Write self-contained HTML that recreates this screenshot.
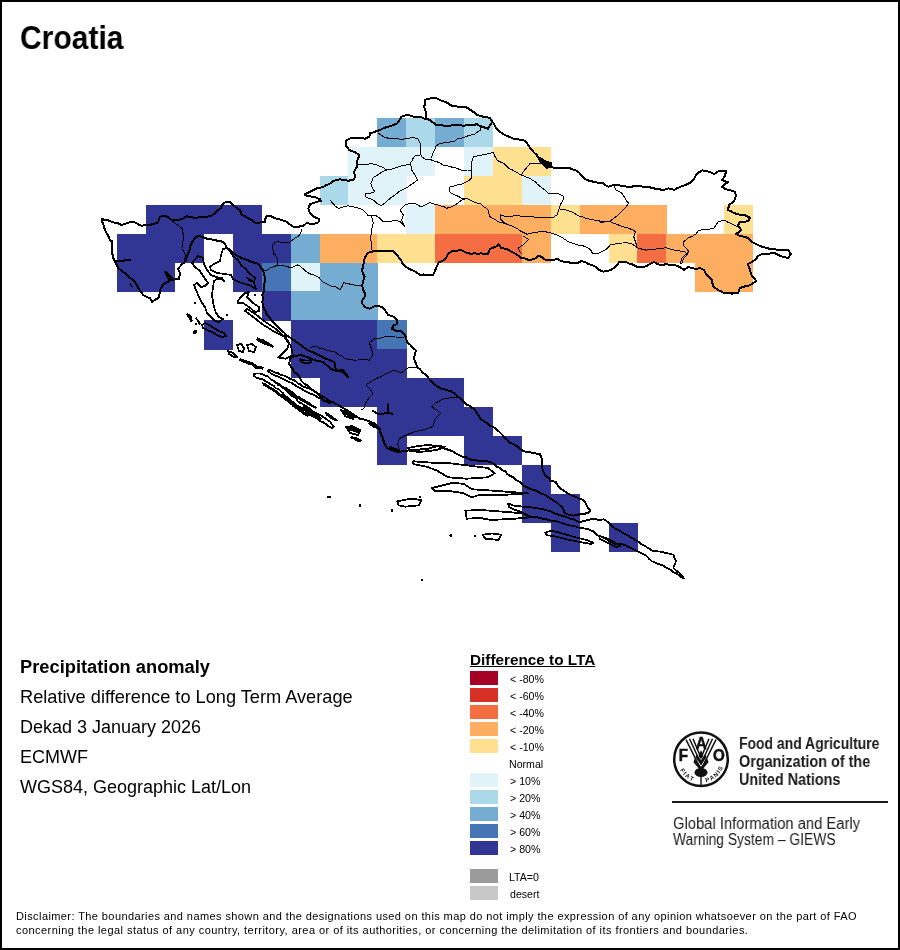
<!DOCTYPE html>
<html><head><meta charset="utf-8">
<style>
*{margin:0;padding:0;box-sizing:border-box}
html,body{width:900px;height:950px;overflow:hidden;background:#fff}
body{position:relative;font-family:"Liberation Sans",sans-serif;color:#000;-webkit-font-smoothing:antialiased}
.t,.ll,#lt,.fao,#disc{will-change:transform}
#frame{position:absolute;left:0;top:0;width:900px;height:950px;border:2px solid #000}
.t{position:absolute;white-space:nowrap;line-height:1}
#title{left:20px;top:20.8px;font-size:33px;font-weight:bold;transform:scaleX(0.91);transform-origin:0 0}
.info{left:20px;font-size:18px}
.sw{position:absolute;left:470px;width:28px;height:14px}
.ll{position:absolute;left:509.5px;font-size:10.6px;line-height:14px;margin-top:0.5px;white-space:nowrap}
#lt{position:absolute;left:470px;top:652px;font-size:15.3px;font-weight:bold;text-decoration:underline;white-space:nowrap;line-height:1}
svg{position:absolute;left:0;top:0}
.fao{position:absolute;white-space:nowrap;color:#1a1a1a;line-height:1}
#disc{position:absolute;left:15.5px;top:909px;font-size:11px;line-height:14px;white-space:nowrap;color:#000;letter-spacing:0.43px}
</style></head><body>
<svg width="900" height="950" viewBox="0 0 900 950" shape-rendering="crispEdges">
<rect x="377.3" y="118.0" width="29.2" height="29.2" fill="#74add1"/>
<rect x="406.2" y="118.0" width="29.2" height="29.2" fill="#abd9e9"/>
<rect x="435.1" y="118.0" width="29.2" height="29.2" fill="#74add1"/>
<rect x="464.0" y="118.0" width="29.2" height="29.2" fill="#abd9e9"/>
<rect x="348.4" y="146.9" width="29.2" height="29.2" fill="#e0f3f8"/>
<rect x="377.3" y="146.9" width="29.2" height="29.2" fill="#e0f3f8"/>
<rect x="406.2" y="146.9" width="29.2" height="29.2" fill="#e0f3f8"/>
<rect x="464.0" y="146.9" width="29.2" height="29.2" fill="#e0f3f8"/>
<rect x="492.9" y="146.9" width="29.2" height="29.2" fill="#fee090"/>
<rect x="521.8" y="146.9" width="29.2" height="29.2" fill="#fee090"/>
<rect x="319.5" y="175.8" width="29.2" height="29.2" fill="#abd9e9"/>
<rect x="348.4" y="175.8" width="29.2" height="29.2" fill="#e0f3f8"/>
<rect x="377.3" y="175.8" width="29.2" height="29.2" fill="#e0f3f8"/>
<rect x="464.0" y="175.8" width="29.2" height="29.2" fill="#fee090"/>
<rect x="492.9" y="175.8" width="29.2" height="29.2" fill="#fee090"/>
<rect x="521.8" y="175.8" width="29.2" height="29.2" fill="#e0f3f8"/>
<rect x="146.1" y="204.7" width="29.2" height="29.2" fill="#313695"/>
<rect x="175.0" y="204.7" width="29.2" height="29.2" fill="#313695"/>
<rect x="203.9" y="204.7" width="29.2" height="29.2" fill="#313695"/>
<rect x="232.8" y="204.7" width="29.2" height="29.2" fill="#313695"/>
<rect x="406.2" y="204.7" width="29.2" height="29.2" fill="#e0f3f8"/>
<rect x="435.1" y="204.7" width="29.2" height="29.2" fill="#fdae61"/>
<rect x="464.0" y="204.7" width="29.2" height="29.2" fill="#fdae61"/>
<rect x="492.9" y="204.7" width="29.2" height="29.2" fill="#fdae61"/>
<rect x="521.8" y="204.7" width="29.2" height="29.2" fill="#fdae61"/>
<rect x="550.7" y="204.7" width="29.2" height="29.2" fill="#fee090"/>
<rect x="579.6" y="204.7" width="29.2" height="29.2" fill="#fdae61"/>
<rect x="608.5" y="204.7" width="29.2" height="29.2" fill="#fdae61"/>
<rect x="637.4" y="204.7" width="29.2" height="29.2" fill="#fdae61"/>
<rect x="724.1" y="204.7" width="29.2" height="29.2" fill="#fee090"/>
<rect x="117.2" y="233.6" width="29.2" height="29.2" fill="#313695"/>
<rect x="146.1" y="233.6" width="29.2" height="29.2" fill="#313695"/>
<rect x="175.0" y="233.6" width="29.2" height="29.2" fill="#313695"/>
<rect x="232.8" y="233.6" width="29.2" height="29.2" fill="#313695"/>
<rect x="261.7" y="233.6" width="29.2" height="29.2" fill="#313695"/>
<rect x="290.6" y="233.6" width="29.2" height="29.2" fill="#74add1"/>
<rect x="319.5" y="233.6" width="29.2" height="29.2" fill="#fdae61"/>
<rect x="348.4" y="233.6" width="29.2" height="29.2" fill="#fdae61"/>
<rect x="377.3" y="233.6" width="29.2" height="29.2" fill="#fee090"/>
<rect x="406.2" y="233.6" width="29.2" height="29.2" fill="#fee090"/>
<rect x="435.1" y="233.6" width="29.2" height="29.2" fill="#f46d43"/>
<rect x="464.0" y="233.6" width="29.2" height="29.2" fill="#f46d43"/>
<rect x="492.9" y="233.6" width="29.2" height="29.2" fill="#f46d43"/>
<rect x="521.8" y="233.6" width="29.2" height="29.2" fill="#fdae61"/>
<rect x="608.5" y="233.6" width="29.2" height="29.2" fill="#fee090"/>
<rect x="637.4" y="233.6" width="29.2" height="29.2" fill="#f46d43"/>
<rect x="666.3" y="233.6" width="29.2" height="29.2" fill="#fdae61"/>
<rect x="695.2" y="233.6" width="29.2" height="29.2" fill="#fdae61"/>
<rect x="724.1" y="233.6" width="29.2" height="29.2" fill="#fdae61"/>
<rect x="117.2" y="262.5" width="29.2" height="29.2" fill="#313695"/>
<rect x="146.1" y="262.5" width="29.2" height="29.2" fill="#313695"/>
<rect x="232.8" y="262.5" width="29.2" height="29.2" fill="#313695"/>
<rect x="261.7" y="262.5" width="29.2" height="29.2" fill="#4575b4"/>
<rect x="290.6" y="262.5" width="29.2" height="29.2" fill="#e0f3f8"/>
<rect x="319.5" y="262.5" width="29.2" height="29.2" fill="#74add1"/>
<rect x="348.4" y="262.5" width="29.2" height="29.2" fill="#74add1"/>
<rect x="695.2" y="262.5" width="29.2" height="29.2" fill="#fdae61"/>
<rect x="724.1" y="262.5" width="29.2" height="29.2" fill="#fdae61"/>
<rect x="261.7" y="291.4" width="29.2" height="29.2" fill="#313695"/>
<rect x="290.6" y="291.4" width="29.2" height="29.2" fill="#74add1"/>
<rect x="319.5" y="291.4" width="29.2" height="29.2" fill="#74add1"/>
<rect x="348.4" y="291.4" width="29.2" height="29.2" fill="#74add1"/>
<rect x="203.9" y="320.3" width="29.2" height="29.2" fill="#313695"/>
<rect x="290.6" y="320.3" width="29.2" height="29.2" fill="#313695"/>
<rect x="319.5" y="320.3" width="29.2" height="29.2" fill="#313695"/>
<rect x="348.4" y="320.3" width="29.2" height="29.2" fill="#313695"/>
<rect x="377.3" y="320.3" width="29.2" height="29.2" fill="#4575b4"/>
<rect x="290.6" y="349.2" width="29.2" height="29.2" fill="#313695"/>
<rect x="319.5" y="349.2" width="29.2" height="29.2" fill="#313695"/>
<rect x="348.4" y="349.2" width="29.2" height="29.2" fill="#313695"/>
<rect x="377.3" y="349.2" width="29.2" height="29.2" fill="#313695"/>
<rect x="319.5" y="378.1" width="29.2" height="29.2" fill="#313695"/>
<rect x="348.4" y="378.1" width="29.2" height="29.2" fill="#313695"/>
<rect x="377.3" y="378.1" width="29.2" height="29.2" fill="#313695"/>
<rect x="406.2" y="378.1" width="29.2" height="29.2" fill="#313695"/>
<rect x="435.1" y="378.1" width="29.2" height="29.2" fill="#313695"/>
<rect x="377.3" y="407.0" width="29.2" height="29.2" fill="#313695"/>
<rect x="406.2" y="407.0" width="29.2" height="29.2" fill="#313695"/>
<rect x="435.1" y="407.0" width="29.2" height="29.2" fill="#313695"/>
<rect x="464.0" y="407.0" width="29.2" height="29.2" fill="#313695"/>
<rect x="377.3" y="435.9" width="29.2" height="29.2" fill="#313695"/>
<rect x="464.0" y="435.9" width="29.2" height="29.2" fill="#313695"/>
<rect x="492.9" y="435.9" width="29.2" height="29.2" fill="#313695"/>
<rect x="521.8" y="464.8" width="29.2" height="29.2" fill="#313695"/>
<rect x="521.8" y="493.7" width="29.2" height="29.2" fill="#313695"/>
<rect x="550.7" y="493.7" width="29.2" height="29.2" fill="#313695"/>
<rect x="550.7" y="522.6" width="29.2" height="29.2" fill="#313695"/>
<rect x="608.5" y="522.6" width="29.2" height="29.2" fill="#313695"/>
</svg>
<svg width="900" height="950" viewBox="0 0 900 950" fill="none" stroke="#000" stroke-linejoin="round" stroke-linecap="round" shape-rendering="crispEdges">
<path d="M101.7,219.2 L105.1,219.8 L108.5,220.5 L111.7,221.7 L115.0,223.0 L118.5,223.5 L121.7,225.0 L125.0,223.9 L128.3,222.7 L131.7,221.7 L135.2,222.6 L138.4,224.4 L141.7,225.8 L145.8,224.9 L150.0,225.0 L154.1,223.7 L158.3,222.5 L158.7,219.5 L160.0,216.7 L165.0,215.8 L168.6,217.5 L171.7,220.0 L175.0,219.7 L178.4,219.8 L181.7,219.2 L186.7,216.3 L190.9,216.9 L195.0,218.3 L198.3,217.5 L201.7,217.4 L205.1,217.3 L208.4,216.4 L211.7,215.8 L214.9,212.8 L218.3,210.0 L220.9,207.8 L222.4,204.7 L225.0,202.5 L230.0,201.7 L233.3,205.0 L236.4,207.8 L240.0,210.0 L241.7,215.0 L245.1,216.4 L248.3,218.3 L251.9,220.1 L255.0,222.5 L260.0,222.5 L265.0,221.7 L265.4,218.6 L266.7,215.8 L270.0,215.8 L275.0,218.3 L278.4,218.9 L281.7,220.0 L286.7,221.7 L289.8,224.5 L293.3,226.7 L296.7,227.5 L299.9,226.3 L303.3,225.8 L306.7,223.0 L310.0,223.7 L313.3,224.2 L318.3,222.5 L319.2,219.2 L316.3,217.8 L313.3,216.7 L310.0,213.3 L308.3,208.3 L310.0,204.2 L315.0,202.5 L317.9,201.5 L320.8,200.8 L320.0,199.2 L315.8,197.5 L311.7,196.7 L307.5,195.8 L305.0,195.0 L305.3,194.0 L309.3,192.0 L313.3,190.0 L316.3,188.6 L319.4,187.7 L322.7,187.3 L326.6,185.0 L330.7,183.3 L333.3,180.7 L336.7,180.2 L340.0,179.3 L344.0,179.9 L348.0,180.7 L353.3,180.0 L355.3,176.7 L354.0,172.0 L355.5,168.9 L357.3,166.0 L357.3,160.7 L359.3,155.3 L356.0,152.7 L352.7,151.3 L349.3,150.0 L346.0,146.0 L346.0,140.7 L350.7,138.0 L354.0,137.9 L357.3,138.0 L361.3,138.1 L365.3,138.7 L369.3,136.7 L370.0,133.3 L373.1,132.6 L376.0,131.3 L379.4,130.2 L382.7,128.7 L386.6,127.1 L390.7,126.0 L394.0,124.7 L397.3,123.3 L400.0,119.3 L401.3,116.7 L404.7,115.7 L408.0,114.7 L413.3,116.7 L416.6,117.1 L420.0,116.7 L423.3,118.2 L426.7,119.2 L426.0,115.5 L425.8,111.7 L424.2,106.7 L425.1,103.4 L425.0,100.0 L428.2,98.7 L431.7,98.3 L436.7,98.3 L441.7,100.8 L446.7,102.5 L451.7,105.8 L455.0,106.2 L458.3,106.7 L462.5,107.4 L466.7,107.5 L471.7,110.8 L474.4,112.6 L476.7,115.0 L480.0,115.8 L483.3,116.7 L486.8,117.0 L490.0,118.3 L492.0,121.3 L494.2,124.0 L496.0,128.3 L500.0,131.7 L503.2,134.0 L506.7,135.8 L510.0,137.0 L513.2,138.5 L516.7,139.2 L520.9,139.8 L525.0,140.8 L528.3,145.0 L529.8,147.6 L531.7,150.0 L534.1,152.6 L536.7,155.0 L539.1,158.0 L541.7,160.8 L545.0,162.9 L548.3,165.0 L551.5,167.0 L555.0,168.3 L560.0,167.5 L563.3,168.3 L566.7,168.0 L570.0,168.3 L573.3,169.7 L576.7,170.8 L579.5,173.0 L581.7,175.8 L585.0,179.2 L589.1,180.7 L593.3,181.7 L596.6,182.4 L599.9,183.3 L603.3,183.3 L605.6,185.3 L608.3,186.7 L613.3,185.0 L617.5,185.2 L621.7,185.8 L624.9,186.3 L628.0,187.0 L631.4,186.9 L634.6,185.8 L638.0,186.0 L642.0,186.5 L646.0,187.0 L649.4,187.3 L652.7,187.9 L656.0,189.0 L659.1,189.0 L662.0,190.0 L665.1,189.5 L668.0,188.4 L671.1,188.8 L674.0,190.0 L676.9,188.3 L680.0,187.0 L684.0,185.4 L688.0,184.0 L691.3,181.8 L694.0,179.0 L695.6,175.7 L698.0,173.0 L702.0,170.4 L706.0,171.1 L710.0,172.0 L714.0,174.0 L719.0,171.0 L722.5,171.1 L726.0,171.0 L725.0,176.0 L722.0,180.0 L724.9,181.4 L728.0,182.0 L724.8,184.2 L722.0,187.0 L725.3,188.9 L729.0,190.0 L732.1,190.8 L735.0,192.0 L736.0,196.0 L734.0,201.0 L731.6,203.1 L729.0,205.0 L728.0,210.0 L731.1,211.4 L734.0,213.0 L737.3,214.1 L740.6,214.8 L744.0,215.0 L747.2,216.2 L750.0,218.0 L748.0,221.0 L744.0,221.9 L740.0,222.0 L738.0,225.0 L741.0,230.0 L738.7,232.2 L736.0,234.0 L740.0,236.0 L744.1,236.7 L748.0,238.0 L752.0,242.0 L756.0,244.0 L760.0,246.0 L763.3,247.1 L766.7,247.8 L770.0,249.0 L773.4,248.8 L776.7,249.6 L780.0,250.0 L784.0,249.9 L788.0,250.0 L791.0,254.0 L788.0,258.0 L784.0,256.9 L780.0,256.0 L777.2,254.1 L774.0,253.0 L771.0,253.3 L768.0,254.0 L765.0,254.0 L762.0,254.0 L758.0,256.0 L756.0,259.0 L752.0,262.0 L748.0,264.0 L748.9,267.0 L750.0,270.0 L750.8,273.1 L752.0,276.0 L754.4,278.2 L756.0,281.0 L752.0,284.0 L748.0,286.0 L743.9,286.6 L740.0,288.0 L738.0,293.0 L735.0,293.0 L732.0,293.6 L728.0,292.9 L724.0,293.0 L721.1,291.2 L718.0,290.0 L715.4,288.1 L713.0,286.0 L712.4,283.0 L712.0,280.0 L708.0,276.0 L705.6,273.2 L704.0,270.0 L700.0,268.0 L696.0,269.0 L692.0,268.0 L688.0,267.0 L684.0,270.0 L680.0,267.0 L677.0,265.9 L674.0,265.0 L669.9,265.0 L666.0,264.0 L663.1,265.0 L660.0,265.0 L656.9,263.8 L654.0,262.0 L650.0,264.0 L647.2,265.8 L644.0,267.0 L641.0,267.2 L638.0,267.0 L634.8,265.9 L632.0,264.0 L628.8,263.5 L626.0,262.0 L623.0,262.4 L620.0,262.0 L618.9,262.2 L617.0,265.3 L614.4,267.8 L611.2,269.6 L607.8,271.1 L603.3,271.6 L599.7,270.2 L596.7,267.8 L594.1,266.0 L591.2,264.9 L588.2,263.9 L585.6,262.2 L581.1,261.1 L576.7,263.3 L572.2,263.0 L567.8,262.2 L564.4,261.8 L561.1,261.1 L557.8,258.9 L553.9,259.8 L550.0,260.4 L545.6,260.0 L541.1,256.7 L538.9,255.6 L534.4,258.9 L531.1,259.7 L527.8,259.6 L524.5,258.3 L521.1,257.8 L516.7,254.4 L512.2,252.2 L509.1,250.1 L505.6,248.9 L501.1,247.8 L498.9,244.4 L495.6,246.7 L492.8,247.8 L490.0,248.9 L487.8,254.4 L484.4,253.9 L481.1,253.3 L477.8,253.8 L474.4,253.3 L471.1,253.7 L467.8,253.3 L464.4,251.8 L461.1,250.0 L456.7,250.8 L452.2,251.1 L448.9,253.3 L446.9,255.9 L445.6,258.9 L442.4,260.9 L438.9,262.2 L436.7,266.7 L434.4,272.2 L433.3,274.7 L430.0,275.5 L426.7,275.3 L423.4,274.5 L420.0,274.7 L417.4,273.0 L414.7,271.3 L410.5,269.6 L406.7,267.3 L402.7,264.0 L401.3,260.7 L398.7,257.3 L396.0,254.0 L393.3,251.3 L388.0,251.3 L384.0,251.5 L380.0,250.7 L376.6,251.0 L373.3,251.3 L368.0,252.7 L365.3,256.7 L364.0,260.7 L363.3,266.0 L362.0,270.0 L362.9,273.5 L364.7,276.7 L362.7,282.0 L362.3,285.4 L362.7,288.7 L364.7,292.7 L365.3,296.0 L362.7,299.3 L362.0,303.3 L365.3,307.3 L369.3,308.7 L372.1,307.5 L374.7,306.0 L378.0,306.1 L381.3,306.7 L385.3,310.7 L388.0,314.7 L393.3,316.7 L397.3,320.7 L397.3,324.0 L393.3,325.3 L392.0,328.7 L396.0,330.7 L401.3,331.3 L404.9,334.7 L406.2,338.5 L407.2,342.4 L410.3,344.7 L412.7,347.8 L415.8,350.2 L415.2,353.3 L414.4,356.3 L414.2,359.5 L415.9,363.3 L417.3,367.3 L419.8,369.0 L421.8,371.5 L424.0,373.6 L426.7,375.1 L428.5,377.9 L430.6,380.5 L432.9,382.9 L435.8,385.3 L439.0,387.3 L442.2,389.1 L445.4,389.6 L448.4,390.7 L451.5,391.4 L454.8,394.0 L457.8,396.9 L460.5,398.5 L462.8,400.4 L464.9,402.6 L467.1,404.7 L469.8,406.0 L472.2,407.9 L474.9,409.3 L476.0,412.2 L478.0,414.5 L479.5,417.1 L481.8,419.5 L484.4,421.7 L487.3,423.3 L490.1,425.8 L493.6,427.3 L496.6,429.5 L499.4,431.9 L502.0,434.5 L504.4,437.3 L507.1,439.6 L509.3,442.4 L513.3,444.1 L517.1,446.3 L520.1,448.8 L523.3,451.0 L527.1,452.2 L531.1,452.5 L535.4,453.5 L539.8,453.8 L541.7,458.6 L542.0,462.4 L542.1,466.1 L542.6,469.9 L543.8,472.9 L545.6,475.6 L548.7,478.0 L551.1,481.1 L555.6,481.7 L557.8,485.6 L561.1,488.9 L564.4,491.2 L567.8,493.3 L571.5,495.4 L575.6,496.7 L579.3,498.6 L583.3,500.0 L585.6,503.3 L587.8,507.8 L590.0,510.0 L589.4,512.2 L584.4,513.9 L578.9,514.4 L573.3,515.6 L567.8,514.4 L564.4,512.8 L563.3,508.9 L561.3,506.5 L558.9,504.5 L556.7,502.2 L553.7,500.9 L551.1,498.9 L547.5,496.4 L543.6,494.4 L540.7,493.4 L538.0,491.7 L535.2,490.4 L532.2,489.7 L529.0,488.2 L525.9,486.7 L522.8,485.0 L520.7,482.7 L518.2,481.0 L515.4,479.6 L513.3,477.4 L510.2,475.9 L507.4,474.0 L505.1,471.4 L502.0,469.9 L499.4,467.7 L496.1,466.4 L493.7,463.9 L490.7,462.3 L487.7,461.4 L484.7,461.4 L481.6,461.3 L478.6,460.7 L475.6,460.4 L472.2,459.9 L468.8,459.1 L465.8,457.1 L462.3,456.7 L459.1,454.9 L455.7,453.3 L452.6,451.2 L449.1,450.0 L445.3,448.8 L441.7,447.1 L437.8,446.3 L433.8,446.9 L430.0,448.2 L426.8,448.9 L423.5,449.3 L420.2,449.5 L416.5,449.7 L412.9,449.5 L409.3,450.4 L405.6,450.7 L402.5,451.2 L399.5,451.9 L396.3,451.6 L393.3,450.7 L390.2,449.5 L387.2,448.2 L385.0,444.7 L383.6,440.9 L382.8,437.7 L381.1,434.8 L380.3,431.8 L379.9,428.7 L377.4,426.3 L375.0,423.8 L372.0,422.5 L368.9,421.3 L364.7,419.7 L360.3,418.9 L357.2,417.1 L354.2,415.2 L350.8,412.4 L346.9,410.3 L343.3,408.2 L339.6,406.1 L335.9,403.9 L332.2,401.8 L329.2,401.2 L326.2,401.1 L323.3,400.0 L319.7,395.4 L316.6,393.0 L313.6,390.5 L310.3,388.3 L307.5,385.6 L304.1,383.6 L301.3,380.7 L298.9,375.8 L296.6,373.7 L294.0,372.1 L292.8,368.5 L290.7,366.3 L289.1,363.6 L290.3,358.7 L294.0,356.2 L297.6,355.6 L301.3,355.0 L304.9,356.5 L308.7,357.5 L313.6,359.9 L316.8,360.8 L320.1,361.3 L323.3,362.3 L325.8,364.4 L328.2,366.5 L330.7,368.5 L333.1,369.7 L336.3,370.8 L339.7,370.9 L342.9,372.1 L345.3,374.6 L347.8,377.0 L346.6,374.6 L344.5,372.3 L342.9,369.7 L338.0,370.9 L335.6,368.5 L334.8,365.4 L334.4,362.3 L331.6,360.8 L328.7,359.9 L325.8,358.7 L322.2,356.8 L318.5,355.0 L315.7,353.5 L312.9,352.1 L309.9,351.3 L306.2,349.0 L302.6,346.5 L299.8,344.3 L296.9,342.4 L294.0,340.3 L290.4,337.9 L286.7,335.5 L284.4,332.9 L281.7,330.6 L279.3,328.1 L276.9,325.8 L274.4,323.7 L272.0,321.4 L269.9,317.8 L267.1,314.7 L265.4,310.9 L263.4,307.3 L262.4,302.2 L262.8,298.6 L262.4,295.0 L263.6,291.5 L263.9,287.8 L264.3,284.1 L265.3,280.6 L264.7,276.9 L263.9,273.3 L262.9,270.2 L261.0,267.6 L259.1,265.1 L256.7,263.2 L253.7,262.6 L250.8,261.7 L248.0,260.3 L245.1,259.2 L242.0,258.3 L239.3,256.7 L236.3,255.1 L233.6,253.1 L229.2,249.5 L226.3,247.3 L224.9,243.7 L222.0,241.6 L217.7,240.8 L211.9,239.4 L208.2,239.1 L204.7,237.9 L201.9,236.7 L198.9,235.8 L196.0,237.2 L193.6,239.9 L191.7,243.0 L190.3,245.8 L190.1,248.9 L188.8,251.7 L187.6,254.5 L186.7,257.4 L185.9,260.3 L184.0,262.8 L181.6,264.7 L177.9,269.0 L180.1,273.3 L178.7,279.1 L174.3,279.4 L170.0,280.6 L165.0,283.3 L162.1,286.3 L160.0,290.0 L159.5,294.2 L158.3,298.3 L154.9,299.7 L152.0,302.0 L150.0,298.3 L146.6,296.8 L143.3,295.0 L140.8,291.7 L138.3,288.3 L137.1,285.3 L135.3,282.6 L133.3,280.0 L130.3,278.1 L127.7,275.6 L125.0,273.3 L121.7,270.8 L118.3,268.3 L115.8,263.3 L113.3,258.3 L112.6,255.0 L111.9,251.7 L111.7,248.3 L111.9,245.0 L112.5,241.7 L110.0,240.0 L108.6,236.5 L106.7,233.3 L104.8,229.9 L104.0,226.1 L102.5,222.5 Z" stroke-width="2"/>
<path d="M508.0,503.3 L513.3,505.5 L516.7,505.8 L520.0,506.2 L523.3,506.8 L526.7,506.7 L530.0,507.2 L533.3,507.7 L536.7,508.3 L540.0,508.7 L543.6,509.3 L547.1,510.4 L550.7,511.3 L553.8,512.7 L556.8,514.2 L560.0,515.3 L563.7,516.1 L567.2,517.4 L570.7,518.7 L573.9,519.5 L576.8,521.2 L580.0,522.0 L585.3,520.7 L588.7,519.9 L592.0,518.7 L595.4,518.9 L598.7,520.0 L604.0,519.3 L608.0,522.0 L612.0,526.0 L614.4,528.0 L617.1,529.7 L620.0,531.0 L622.6,532.7 L625.3,534.2 L628.2,535.5 L630.7,537.3 L633.6,538.6 L636.0,540.7 L638.9,542.0 L641.3,544.0 L644.1,545.4 L646.8,547.2 L649.5,548.7 L652.0,550.7 L655.6,551.1 L659.1,551.5 L662.7,552.0 L666.2,553.2 L669.8,553.8 L673.3,554.7 L674.5,558.0 L676.0,561.3 L674.7,564.7 L673.3,568.0 L675.9,570.3 L678.7,572.4 L681.3,574.7 L684.0,578.7 L681.2,577.2 L678.9,575.0 L676.2,573.3 L673.3,572.0 L670.8,570.1 L668.1,568.5 L665.3,567.1 L662.7,565.3 L659.0,564.2 L655.5,562.8 L652.0,561.3 L649.1,558.9 L646.7,556.0 L643.2,554.0 L639.5,552.5 L636.0,550.7 L632.6,548.6 L628.8,547.2 L625.3,545.3 L622.4,544.4 L619.4,544.0 L616.2,544.2 L613.3,543.3 L609.9,541.5 L606.7,539.3 L601.3,536.7 L597.3,535.3 L593.3,531.3 L589.4,529.6 L585.3,528.7 L581.3,528.0 L577.3,527.3 L574.3,526.0 L571.1,525.7 L568.0,524.7 L564.8,524.2 L561.8,522.8 L558.7,522.0 L555.8,521.1 L552.7,520.9 L549.6,520.3 L546.7,519.3 L543.3,518.8 L540.0,518.0 L537.0,517.2 L533.8,516.9 L530.7,516.7 L527.0,515.2 L523.5,513.3 L520.0,511.3 L516.3,510.3 L512.7,509.0 L509.3,507.3 Z" stroke-width="1.8"/>
<path d="M426.7,118.7 L430.7,120.7 L436.0,124.7 L446.7,126.0 L457.3,124.9 L464.0,125.7 L469.3,124.9 L477.3,124.4 L480.0,126.0 L488.0,128.7 L492.0,122.0" stroke-width="2"/>
<path d="M223.0,249.0 L221.0,255.0 L220.0,261.0 L214.0,264.0 L210.0,267.0 L211.0,270.0 L217.0,273.0 L225.0,274.0 L231.0,275.0 L233.0,279.0 L239.0,282.0 L245.0,284.0 L249.0,285.0 L256.0,289.0 L254.0,283.0 L255.0,278.0 L249.0,273.0 L245.0,268.0 L241.0,265.0 L238.0,260.0 L233.0,256.0 L230.0,251.0 L227.0,248.0 Z M198.0,256.0 L192.0,263.0 L195.0,267.0 L200.0,271.0 L203.0,276.0 L206.0,280.0 L208.0,283.0 L205.0,286.0 L201.0,287.0 L197.0,283.0 L194.0,285.0 L196.0,290.0 L199.0,297.0 L202.0,303.0 L205.0,307.0 L207.0,313.0 L211.0,317.0 L215.0,321.0 L219.0,322.0 L223.0,319.0 L219.0,317.0 L216.0,313.0 L214.0,307.0 L213.0,301.0 L212.0,295.0 L213.0,287.0 L214.0,281.0 L217.0,279.0 L221.0,279.0 L224.0,281.0 L222.0,278.0 L216.0,277.0 L211.0,275.0 L207.0,270.0 L204.0,264.0 L203.0,258.0 Z M202.0,325.0 L205.0,323.0 L209.0,325.0 L214.0,328.0 L219.0,331.0 L224.0,333.0 L226.0,336.0 L222.0,337.0 L217.0,335.0 L212.0,332.0 L207.0,330.0 L203.0,328.0 Z M238.0,301.0 L241.0,297.0 L245.0,293.0 L249.0,292.0 L247.0,297.0 L253.0,303.0 L259.0,307.0 L259.0,311.0 L255.0,312.0 L249.0,307.0 L243.0,303.0 L238.0,303.0 Z M245.0,311.0 L252.0,316.0 L262.0,324.0 L274.0,331.5 L284.0,336.5 L289.0,344.0 L287.0,349.0 L281.0,355.0 L278.0,357.5 L285.5,358.7 L292.8,355.0 L291.0,346.0 L286.0,338.0 L276.0,329.0 L264.0,321.0 L254.0,313.0 L247.0,309.0 Z M237.0,345.0 L241.0,344.0 L244.0,348.0 L243.0,352.0 L239.0,351.0 Z M247.0,345.0 L252.0,344.0 L256.0,347.0 L254.0,352.0 L249.0,351.0 Z M228.0,351.0 L233.0,353.0 L237.0,357.0 L234.0,357.0 L229.0,354.0 Z M341.0,410.0 L347.0,412.0 L355.0,416.0 L353.0,419.0 L345.0,416.0 Z M346.0,427.0 L352.0,426.0 L360.0,430.0 L358.0,435.0 L350.0,433.0 Z M408.0,448.0 L418.0,446.0 L428.0,445.0 L445.0,446.7 L437.0,450.0 L420.0,452.0 L410.0,451.0 Z M413.3,461.3 L432.0,462.7 L445.3,462.7 L466.7,465.3 L488.0,468.0 L494.7,473.3 L488.0,477.3 L466.7,478.7 L448.0,477.3 L437.3,470.7 L426.7,466.7 L413.3,464.0 Z M432.0,488.0 L442.7,485.3 L453.3,482.7 L464.0,484.0 L472.0,489.3 L493.3,490.7 L528.0,493.3 L506.7,494.7 L480.0,494.7 L472.0,497.3 L464.0,493.3 L448.0,490.7 L434.7,490.7 Z M397.3,501.3 L410.7,498.7 L421.3,500.0 L418.7,505.3 L405.3,506.7 L398.7,505.3 Z M465.3,510.7 L480.0,509.9 L506.7,512.0 L522.7,513.3 L530.7,517.3 L514.7,518.7 L490.7,520.0 L480.0,517.9 L466.7,518.7 Z M482.7,534.7 L492.0,533.5 L501.3,534.7 L498.7,540.0 L485.3,538.7 Z M545.3,532.7 L550.7,530.7 L560.0,532.7 L573.3,536.7 L586.7,540.0 L593.3,542.7 L590.7,544.0 L580.0,542.0 L566.7,539.3 L553.3,536.0 L546.7,535.3 Z M599.0,536.0 L606.0,538.0 L614.0,542.0 L620.0,546.0 L616.0,547.0 L608.0,543.0 L600.0,539.0 Z M268.1,371.1 L270.8,373.1 L273.5,375.1 L276.8,376.0 L280.1,377.4 L283.1,379.1 L286.0,380.4 L289.0,381.8 L292.0,383.2 L294.2,384.5 L296.3,386.0 L298.5,387.4 L301.0,388.4 L303.8,390.5 L306.8,391.8 L309.8,393.3 L312.9,394.5 L315.8,396.0 L318.5,397.8 L321.4,398.7 L323.6,400.9 L326.5,401.8 L330.2,403.5 L331.0,402.2 L327.8,399.7 L325.4,397.8 L322.7,396.5 L320.0,395.0 L317.4,392.8 L314.4,391.5 L311.5,389.9 L308.5,388.4 L305.4,387.3 L302.2,386.2 L300.4,384.4 L297.9,383.5 L296.0,381.5 L293.8,380.0 L290.4,379.1 L287.6,377.3 L284.5,375.7 L281.0,374.8 L277.9,373.2 L274.7,372.5 L271.9,370.8 L268.7,369.8 Z M253.7,375.9 L256.0,377.4 L258.4,378.4 L260.9,379.1 L263.0,379.4 L264.8,380.8 L267.0,382.2 L269.3,383.4 L271.4,384.9 L273.8,386.0 L275.7,388.2 L278.4,389.2 L280.4,391.0 L282.6,392.8 L284.5,395.2 L286.8,397.0 L289.0,399.0 L290.8,400.8 L293.0,402.2 L295.1,403.7 L297.0,405.8 L300.1,407.2 L302.6,409.1 L305.0,410.4 L307.1,412.5 L309.2,415.0 L312.6,416.2 L315.4,417.8 L318.3,419.2 L320.4,421.1 L323.2,422.3 L325.8,423.8 L327.7,426.0 L329.9,427.0 L332.3,428.2 L333.8,426.7 L332.1,424.8 L330.8,422.2 L328.0,420.6 L325.7,418.5 L323.1,417.0 L320.6,415.2 L317.5,413.7 L314.5,412.3 L311.7,411.1 L310.1,408.9 L307.8,407.1 L305.0,405.7 L302.2,403.7 L299.3,402.5 L297.5,400.9 L296.2,398.5 L294.3,396.9 L291.9,395.7 L289.5,393.9 L287.3,392.0 L285.6,389.5 L282.9,388.0 L281.0,385.7 L278.9,383.9 L276.1,383.0 L274.1,380.9 L271.6,379.8 L269.6,378.1 L267.5,376.3 L264.6,375.5 L262.0,374.0 L259.5,373.5 L256.9,373.4 L254.2,373.8 Z M299.9,360.3 L302.6,362.3 L305.9,363.6 L308.8,362.9 L311.2,361.9 L310.8,360.0 L308.3,360.5 L306.1,360.5 L303.2,360.3 L300.3,359.2 Z" stroke-width="1.8"/>
<path d="M373,411 L378,414 L384,413.5 L389,412.5 L392,414 M388,412 L388.5,404" stroke-width="2"/>
<path d="M116.5,260.8 L130,260.3" stroke-width="2"/><path d="M168.5,280 L164.5,271.5 L167,272 L173,278 Z" fill="#000" stroke-width="1"/>
<path d="M262.0,383.0 L264.0,385.3 L266.6,386.6 L268.9,388.4 L271.5,389.7 L274.0,391.5 L276.5,393.2 L278.8,395.3 L281.4,396.9 L283.5,398.2 L285.2,400.2 L287.6,401.3 L289.3,403.3 L291.5,404.6 L293.2,406.6 L295.2,408.1 L297.5,409.2 L299.2,411.1 L301.6,412.1 L303.4,413.8 L305.3,415.4 L307.9,416.1 L308.2,415.8 L306.7,413.6 L304.4,412.4 L302.4,411.0 L300.6,409.2 L298.7,407.6 L296.4,406.5 L294.6,404.7 L292.5,403.3 L290.4,401.9 L288.6,400.1 L286.5,398.6 L284.5,397.0 L282.7,395.0 L279.8,393.8 L277.5,391.8 L275.1,389.9 L272.4,388.3 L269.9,386.8 L267.5,385.2 L265.1,383.4 L262.0,382.9 Z M239.7,360.4 L242.6,361.8 L245.7,362.5 L248.5,364.2 L251.5,364.9 L253.9,366.5 L256.4,368.7 L259.9,368.3 L262.8,369.5 L263.2,367.4 L260.3,366.5 L257.3,366.4 L255.1,364.7 L252.5,363.0 L249.3,361.9 L246.3,360.8 L243.3,359.8 L240.3,358.8 Z M256.8,339.6 L259.4,341.7 L262.3,343.0 L264.8,344.1 L267.5,345.1 L270.1,346.0 L272.6,347.2 L273.2,346.1 L270.8,344.6 L268.6,342.9 L266.1,341.5 L263.7,339.9 L260.3,339.5 L257.4,337.9 Z M343.6,413.1 L346.5,414.6 L349.2,415.9 L352.2,417.0 L355.9,417.3 L356.5,416.1 L353.6,414.3 L350.8,412.2 L347.5,411.6 L344.1,411.7 Z M346.9,428.6 L349.7,430.1 L352.5,430.6 L354.6,431.8 L357.2,432.1 L359.7,432.8 L360.5,430.9 L358.4,429.3 L356.0,428.5 L353.6,426.8 L350.2,427.1 L347.1,427.3 Z M302.7,407.5 L305.3,410.0 L308.4,412.0 L310.9,414.6 L314.0,416.5 L317.3,418.1 L320.8,419.2 L321.3,418.6 L318.9,415.7 L315.6,414.2 L313.0,411.5 L310.0,409.5 L306.8,407.7 L303.2,406.6 Z M186.6,314.4 L189.0,317.7 L191.0,321.5 L192.3,320.9 L191.0,316.3 L187.6,313.4 Z M246.0,277.0 L247.8,278.7 L249.4,280.9 L253.0,282.0 L253.2,281.7 L250.6,279.2 L248.1,278.3 L246.0,277.0 Z M195.8,318.1 L197.6,321.3 L199.6,324.3 L200.2,323.9 L198.7,320.6 L196.2,317.9 Z M129.8,284.1 L131.9,287.1 L132.5,286.7 L130.3,283.8 Z M536.0,155.0 L541.0,158.0 L546.0,161.0 L551.5,163.0 L551.0,167.0 L546.5,168.5 L541.0,163.0 Z M350.7,437.8 L353.3,438.6 L355.6,440.1 L358.0,441.2 L360.6,441.9 L361.3,440.3 L358.8,439.1 L356.5,437.7 L353.8,437.3 L351.2,436.5 Z M368.7,423.5 L371.0,425.3 L373.5,427.0 L376.6,428.3 L379.7,429.6 L380.4,428.3 L377.3,426.9 L374.7,424.8 L372.1,423.5 L369.2,422.6 Z M389.0,447.1 L391.2,448.7 L393.4,450.4 L396.0,451.2 L398.9,451.3 L399.2,450.5 L396.9,448.9 L394.4,448.1 L392.0,446.8 L389.2,446.6 Z M324.9,413.1 L327.5,415.8 L330.3,418.1 L333.4,419.9 L336.9,421.1 L337.3,420.5 L334.5,418.3 L331.6,416.0 L328.7,414.0 L325.5,412.3 Z M276.0,383.0 L278.0,385.4 L280.7,386.4 L282.8,388.6 L285.8,389.4 L288.2,391.2 L290.4,393.4 L292.7,395.4 L295.3,397.0 L297.9,398.5 L300.4,400.0 L302.9,401.5 L305.8,402.4 L308.0,404.3 L310.7,405.6 L313.3,406.9 L315.6,408.6 L316.2,407.7 L313.9,405.8 L311.3,404.5 L309.1,402.4 L306.4,401.4 L304.2,399.4 L301.3,398.6 L299.0,396.7 L296.2,395.6 L294.1,393.4 L291.7,391.5 L289.2,389.7 L286.7,388.0 L283.8,387.0 L281.3,385.6 L278.6,384.3 L276.0,382.9 Z" fill="#000" stroke-width="1"/>
<g fill="#000" stroke="none"><circle cx="195" cy="332" r="2"/><circle cx="196" cy="324" r="1.5"/><circle cx="360" cy="505.3" r="1.5"/><circle cx="392" cy="510.7" r="1.5"/><circle cx="328" cy="497.3" r="1"/><circle cx="450.7" cy="535.5" r="1.5"/><circle cx="474.7" cy="536" r="1"/><circle cx="227" cy="315" r="1"/><circle cx="255" cy="295" r="1.5"/><circle cx="195" cy="303" r="1.5"/><circle cx="422" cy="580" r="1"/><circle cx="330" cy="497" r="1"/><circle cx="420" cy="497" r="1"/></g>
<path d="M171.7,220.0 L174.0,222.4 L176.7,224.3 L179.3,226.5 L182.0,228.4 L182.5,232.1 L183.8,235.6 L183.4,239.2 L182.5,242.6 L182.0,246.2 L182.8,249.3 L184.1,252.3 L185.6,255.1 L184.7,258.5 L184.0,262.0 M302.0,229.0 L301.0,232.4 L299.3,235.6 L296.5,237.2 L293.9,239.0 L291.4,240.9 L288.7,242.7 L285.0,243.0 L281.3,242.7 L278.0,240.9 L275.2,242.4 L272.7,244.4 L272.6,247.7 L273.1,250.9 L273.3,254.2 L274.4,253.3 L276.1,256.5 L277.8,259.6 L277.8,264.9 L274.4,266.5 L270.9,267.6 L267.6,269.8 L263.8,271.1 M277.8,264.9 L280.7,265.9 L283.8,265.7 L286.7,266.7 L292.0,267.6 L297.3,264.9 L300.3,266.3 L302.7,268.4 L305.9,271.5 L309.8,273.8 L312.9,274.7 L315.9,275.8 L318.7,277.3 L321.2,280.1 L324.0,282.7 L327.6,284.3 L331.1,286.2 L336.4,287.1 L340.0,289.8 L342.1,286.4 L343.6,282.7 L347.2,283.3 L350.7,284.4 L355.1,285.3 L359.6,285.3 L362.2,286.2 M330.0,200.0 L332.5,203.1 L335.2,205.9 L338.3,208.3 L341.7,207.8 L344.9,206.2 L348.3,205.8 L352.5,206.7 L356.7,207.5 L360.0,208.7 L363.3,210.0 L365.8,212.9 L368.3,215.8 L371.6,215.0 L375.0,215.0 L380.0,218.3 L383.3,221.7 L386.6,221.4 L390.0,221.7 L395.0,220.0 L400.0,221.7 L402.5,224.2 L405.0,226.7 L403.1,223.5 L401.7,220.0 L403.3,215.0 L400.0,210.0 L402.5,207.5 L405.0,205.0 L409.1,203.7 L413.3,203.3 L416.3,204.0 L418.8,205.8 L421.7,206.7 L424.4,205.2 L427.2,203.9 L430.0,202.5 L434.1,204.0 L438.3,205.0 L441.2,206.0 L444.1,206.8 L446.7,208.3 L451.0,206.9 L455.0,205.0 L458.4,202.6 L461.7,200.0 L466.7,198.3 L469.9,200.1 L473.3,201.7 L477.0,203.0 L480.7,204.0 L484.0,207.0 L487.8,209.3 L488.8,212.8 L489.6,216.4 L492.4,218.4 L495.5,219.9 L498.4,221.8 L502.0,222.8 L505.6,223.6 L508.5,224.9 L511.5,225.8 L514.4,227.1 L517.3,228.6 L519.8,230.7 L523.4,232.4 L526.9,234.2 L530.5,233.5 L534.0,232.4 L537.6,232.1 L541.1,231.6 L545.6,231.9 L550.0,232.4 L552.9,233.7 L556.1,234.5 L558.9,236.0 L562.0,237.5 L564.9,239.4 L567.8,241.3 L570.6,242.8 L573.8,243.4 L576.7,244.9 L579.7,245.1 L582.7,245.7 L585.6,246.7 L588.5,248.1 L590.9,250.2 L592.7,253.8 L598.0,253.8 L601.4,251.8 L605.1,250.2 L607.8,247.6 L610.4,244.9 L613.4,244.6 L616.3,243.5 L619.3,243.1 L622.9,243.0 L626.4,242.9 L630.0,243.1 L633.8,245.2 L637.3,247.6 L640.2,248.7 L643.2,249.4 L646.2,250.2 L650.6,249.5 L655.1,249.3 L658.6,248.3 L662.3,248.4 L665.8,247.6 L668.7,248.7 L671.6,249.6 L674.7,250.2 L678.3,250.5 L681.8,251.4 L685.3,252.0 L687.1,254.7 L683.6,258.2 L681.8,263.6 M371.7,216.7 L372.3,220.1 L373.3,223.3 L372.2,226.6 L371.7,230.0 L371.7,233.4 L370.6,236.6 L370.8,240.0 L371.5,243.3 L371.4,246.7 L372.0,250.0 M378.3,133.3 L380.9,134.9 L383.3,136.7 L386.6,137.9 L390.0,138.3 L393.3,138.9 L396.7,138.6 L400.0,139.2 L403.4,139.1 L406.7,138.3 L410.0,138.0 L413.3,137.5 L418.3,139.2 L420.0,143.3 L420.5,147.5 L420.0,151.7 L421.7,156.7 L425.0,159.2 L430.0,159.2 L433.2,160.9 L436.7,161.7 L440.1,163.1 L443.3,165.0 L446.7,165.7 L450.0,166.7 L453.4,167.4 L456.7,168.3 L460.0,169.6 L463.3,170.8 L467.5,170.0 L471.7,170.0 L471.9,165.8 L471.7,161.7 L473.3,156.7 L477.1,156.0 L480.1,155.7 L483.0,154.8 L486.0,154.2 L489.6,153.6 L493.1,152.4 L494.8,156.1 L496.7,159.6 L499.5,161.6 L502.8,162.9 L505.6,164.9 L509.1,168.4 L512.7,170.1 L516.2,172.0 L518.9,173.8 L521.6,175.6 L524.6,176.1 L527.3,177.8 L530.4,178.2 L532.7,180.4 L535.5,182.0 L537.6,184.4 L541.1,187.2 L544.7,189.8 L548.2,193.3 L552.7,193.2 L557.1,193.3 L560.8,194.8 L564.2,196.9 L562.8,200.6 L560.7,204.0 L558.9,209.3 L557.1,214.7 L553.6,217.3 L550.5,217.3 L547.4,217.7 L544.2,217.2 L541.1,217.3 L538.0,217.1 L534.9,217.2 L531.8,216.3 L528.7,216.4 L525.1,216.6 L521.5,216.2 L518.0,215.6 L514.9,215.5 L511.8,216.3 L508.7,216.3 L505.6,216.4 L500.2,214.7 L501.1,220.0 L505.6,223.6 M420.0,155.0 L415.0,155.8 L413.1,158.2 L411.9,161.0 L410.0,163.3 L411.1,166.6 L411.7,170.0 L415.0,175.0 L417.5,180.0 L413.3,183.3 L410.7,184.9 L408.3,186.7 L405.2,188.7 L401.7,190.0 L398.2,192.3 L395.0,195.0 L391.5,197.3 L388.3,200.0 L385.3,202.9 L381.7,205.0 L380.0,205.0 M410.0,164.2 L406.6,164.9 L403.3,165.7 L399.9,166.2 L396.7,167.5 L393.4,168.6 L390.1,169.6 L386.7,170.0 L383.2,171.4 L380.0,173.3 L376.7,175.5 L373.3,177.5 L372.2,180.5 L370.8,183.3 L372.5,188.3 L375.0,191.7 L370.0,193.3 L365.0,193.3 L365.0,196.7 L368.2,198.2 L371.7,199.2 L374.6,200.9 L377.0,203.4 L380.0,205.0 L381.7,205.0 M358.3,165.0 L362.5,164.2 L366.7,164.2 L370.9,163.8 L375.0,164.2 L379.1,165.9 L383.3,167.5 L386.7,170.0 M431.7,157.5 L433.3,152.0 L434.7,150.0 L436.0,146.0 L440.0,143.3 L443.4,143.0 L446.7,142.7 L450.7,141.8 L454.7,141.3 L457.3,138.7 L460.7,138.3 L464.0,137.3 L467.5,136.0 L471.1,135.1 L474.7,134.0 L477.6,131.9 L480.7,130.0 L480.0,126.0 M471.7,170.0 L471.7,174.0 L471.8,178.0 L469.4,180.0 L466.7,181.7 L461.7,184.2 L456.7,185.0 L453.5,186.3 L450.0,186.7 L449.2,191.7 L452.0,193.5 L455.0,195.0 L458.5,196.4 L461.7,198.3 L466.7,198.3 M521.6,174.7 L523.4,171.5 L525.7,168.7 L528.1,165.9 L530.4,163.1 L534.0,163.3 L537.6,163.1 L541.2,163.2 L544.7,164.0 M560.7,209.3 L563.8,209.5 L566.7,210.2 L569.6,211.1 L573.2,212.7 L576.7,214.7 L579.5,216.2 L582.6,217.0 L585.6,218.2 L590.0,219.3 L594.4,220.0 L598.1,220.5 L601.6,221.8 L606.0,221.8 L610.4,221.8 L613.2,223.3 L616.3,224.2 L619.3,225.3 L622.2,226.6 L625.3,227.5 L628.4,228.0 L632.1,229.7 L635.6,231.6 L633.8,236.9 L635.6,242.2 L637.3,247.6 M613.3,185.0 L614.0,186.2 L615.8,189.8 L618.5,191.2 L621.3,192.4 L623.0,195.2 L624.9,197.8 L626.4,200.6 L628.4,203.1 L626.8,205.9 L624.9,208.4 L622.4,210.7 L619.9,212.9 L617.8,215.6 L614.0,217.9 L610.7,220.9 L607.2,221.8 L603.5,222.0 L600.0,222.7 M523.3,236.0 L526.0,237.8 L528.7,239.6 L525.9,242.2 L523.3,244.9 L520.5,246.4 L518.0,248.4 L519.5,251.3 L521.6,253.8 M680.0,264.0 L681.0,261.0 L682.0,258.0 L686.0,254.0 L689.0,252.0 L686.7,248.8 L684.0,246.0 L683.0,242.0 L685.7,240.2 L688.0,238.0 L692.2,236.3 L696.0,234.0 L698.0,231.0 L701.9,229.8 L706.0,229.0 L710.1,229.0 L714.0,228.0 L716.0,225.0 L718.0,222.0 L721.0,221.1 L724.0,220.0 L727.9,222.2 L732.0,224.0 L734.9,225.7 L738.0,227.0 M310.7,347.8 L314.2,346.0 L317.2,346.7 L320.0,348.3 L323.1,348.7 L326.1,350.0 L329.2,350.9 L332.4,351.6 L335.6,352.2 L338.3,354.6 L341.8,355.9 L344.4,358.4 L347.3,359.1 L350.4,359.4 L353.3,360.2 L357.8,360.0 L362.2,359.3 L365.8,359.7 L369.3,360.2 L371.1,357.6 L372.9,354.9 L372.0,351.3 L371.1,347.8 L369.3,342.4 L372.0,340.7 L374.7,338.9 L377.7,338.6 L380.7,338.2 L383.6,337.1 L387.1,336.5 L390.7,336.2 L395.1,337.0 L399.6,337.1 L403.3,337.2 L407.0,336.5 M415.6,367.3 L411.1,367.6 L406.7,368.2 L404.3,370.8 L401.3,372.7 L396.0,370.9 L392.4,370.9 L388.8,372.6 L385.2,374.1 L381.8,376.2 L378.1,377.7 L374.7,379.8 L371.1,381.6 L368.4,383.2 L365.8,385.1 L368.5,387.7 L371.1,390.4 L372.9,394.0 L369.3,397.6 L367.5,400.2 L365.8,402.9 L364.0,408.2 L361.0,410.0 M460.0,397.6 L455.6,397.5 L451.1,397.6 L448.1,398.2 L445.1,398.5 L442.2,399.3 L438.8,401.5 L435.1,402.9 L431.6,406.4 L434.1,408.4 L436.9,410.0 L440.4,413.6 L437.8,416.3 L435.1,418.9 L434.1,422.4 L433.3,426.0 L430.5,427.5 L427.4,428.5 L424.4,429.6 L420.0,430.7 L415.6,431.3 L412.7,432.7 L409.6,433.5 L406.7,434.9 L403.2,436.7 L399.6,438.4 L397.8,443.8 L398.3,447.0 L399.6,450.0" stroke-width="1"/>
</svg>
<div class="t" id="title">Croatia</div>
<div class="t info" style="top:658px;font-weight:bold;font-size:18.3px">Precipitation anomaly</div>
<div class="t info" style="top:688px;font-size:18.2px">Relative difference to Long Term Average</div>
<div class="t info" style="top:718px">Dekad 3 January 2026</div>
<div class="t info" style="top:748px">ECMWF</div>
<div class="t info" style="top:778px">WGS84, Geographic Lat/Lon</div>
<div id="lt">Difference to LTA</div>
<div class="sw" style="top:671px;background:#a50026"></div>
<div class="ll" style="top:671px">&lt; -80%</div>
<div class="sw" style="top:688px;background:#d73027"></div>
<div class="ll" style="top:688px">&lt; -60%</div>
<div class="sw" style="top:705px;background:#f46d43"></div>
<div class="ll" style="top:705px">&lt; -40%</div>
<div class="sw" style="top:722px;background:#fdae61"></div>
<div class="ll" style="top:722px">&lt; -20%</div>
<div class="sw" style="top:739px;background:#fee090"></div>
<div class="ll" style="top:739px">&lt; -10%</div>
<div class="ll" style="top:756px;left:509px">Normal</div>
<div class="sw" style="top:773px;background:#e0f3f8"></div>
<div class="ll" style="top:773px">&gt; 10%</div>
<div class="sw" style="top:790px;background:#abd9e9"></div>
<div class="ll" style="top:790px">&gt; 20%</div>
<div class="sw" style="top:807px;background:#74add1"></div>
<div class="ll" style="top:807px">&gt; 40%</div>
<div class="sw" style="top:824px;background:#4575b4"></div>
<div class="ll" style="top:824px">&gt; 60%</div>
<div class="sw" style="top:841px;background:#313695"></div>
<div class="ll" style="top:841px">&gt; 80%</div>
<div class="sw" style="top:869px;background:#9b9b9b"></div><div class="ll" style="top:869px;left:509px">LTA=0</div>
<div class="sw" style="top:886px;background:#c8c8c8"></div><div class="ll" style="top:886px">desert</div>
<svg width="900" height="950" viewBox="0 0 900 950">
<g transform="translate(701,759.2)" fill="#111">
<circle r="26.8" fill="none" stroke="#111" stroke-width="2.5"/>
<text x="-18.6" y="1.8" font-family="Liberation Sans" font-weight="bold" font-size="16" text-anchor="middle" stroke="#111" stroke-width="0.5" transform="scale(0.95,1)">F</text>
<text x="0.2" y="-10.6" font-family="Liberation Sans" font-weight="bold" font-size="16" text-anchor="middle" stroke="#111" stroke-width="0.5" transform="scale(0.95,1)">A</text>
<text x="18.9" y="1.8" font-family="Liberation Sans" font-weight="bold" font-size="16" text-anchor="middle" stroke="#111" stroke-width="0.5" transform="scale(0.95,1)">O</text>
<g fill="none" stroke="#111" stroke-width="1.5" stroke-linejoin="miter">
<path d="M-8,-20.5 L0,-1.5 L8,-20.5"/>
<path d="M-11.5,-20.5 L0,4.5 L11.5,-20.5"/>
<path d="M-15,-19.5 L0,10.5 L15,-19.5"/>
</g>
<path d="M0,-9 C1.8,-6 2.5,-4.5 2.2,-3 C2,-1 -2,-1 -2.2,-3 C-2.5,-4.5 -1.8,-6 0,-9Z"/>
<path d="M-4.5,-5 L0,1 L4.5,-5 L5.5,-2 L0,6 L-5.5,-2Z"/>
<path d="M-6.5,-0.5 L0,7.5 L6.5,-0.5 L7.5,3 L0,12 L-7.5,3Z"/>
<ellipse cx="0" cy="13.3" rx="6.5" ry="4.6"/>
<rect x="-0.7" y="14" width="1.4" height="13"/>
<g font-family="Liberation Sans" font-weight="bold" font-size="6"><text x="0" y="0" transform="translate(-20.05,12.27) rotate(58.5)" text-anchor="middle">F</text><text x="0" y="0" transform="translate(-17.70,15.46) rotate(48.9)" text-anchor="middle">I</text><text x="0" y="0" transform="translate(-14.59,18.42) rotate(38.4)" text-anchor="middle">A</text><text x="0" y="0" transform="translate(-10.10,21.22) rotate(25.5)" text-anchor="middle">T</text><text x="0" y="0" transform="translate(6.79,22.50) rotate(-16.8)" text-anchor="middle">P</text><text x="0" y="0" transform="translate(11.79,20.33) rotate(-30.1)" text-anchor="middle">A</text><text x="0" y="0" transform="translate(16.28,16.95) rotate(-43.8)" text-anchor="middle">N</text><text x="0" y="0" transform="translate(19.09,13.70) rotate(-54.3)" text-anchor="middle">I</text><text x="0" y="0" transform="translate(21.20,10.15) rotate(-64.4)" text-anchor="middle">S</text></g>
</g>
<rect x="672" y="801" width="216" height="2" fill="#1a1a1a"/>
</svg>
<div class="fao" style="left:739px;top:735.5px;font-size:16px;font-weight:bold;transform:scaleX(0.871);transform-origin:0 0">Food and Agriculture</div>
<div class="fao" style="left:739px;top:753.5px;font-size:16px;font-weight:bold;transform:scaleX(0.9);transform-origin:0 0">Organization of the</div>
<div class="fao" style="left:739px;top:771.5px;font-size:16px;font-weight:bold;transform:scaleX(0.898);transform-origin:0 0">United Nations</div>
<div class="fao" style="left:673px;top:815.7px;font-size:16px;transform:scaleX(0.9225);transform-origin:0 0">Global Information and Early</div>
<div class="fao" style="left:673px;top:832.3px;font-size:16px;transform:scaleX(0.865);transform-origin:0 0">Warning System &#8211; GIEWS</div>
<div id="disc"><span style="letter-spacing:0.41px">Disclaimer: The boundaries and names shown and the designations used on this map do not imply the expression of any opinion whatsoever on the part of FAO</span><br><span style="letter-spacing:0.45px">concerning the legal status of any country, territory, area or of its authorities, or concerning the delimitation of its frontiers and boundaries.</span></div>
<div id="frame"></div>
</body></html>
